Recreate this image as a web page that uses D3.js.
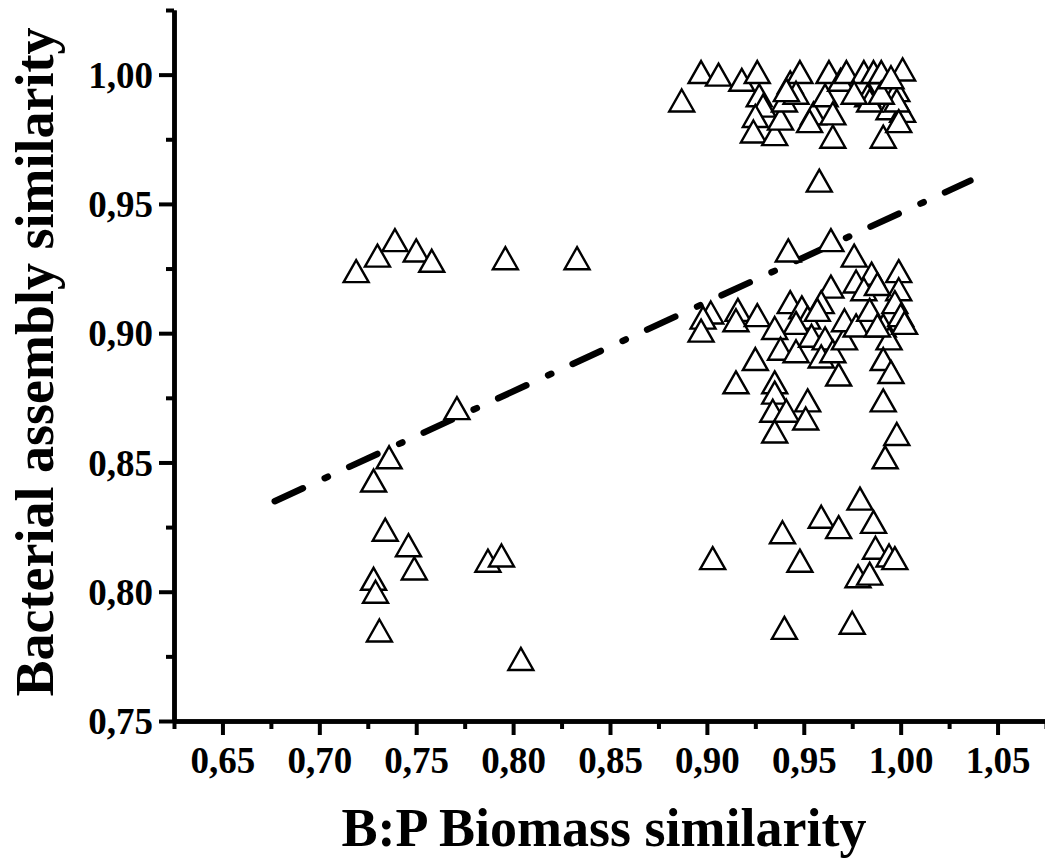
<!DOCTYPE html>
<html>
<head>
<meta charset="utf-8">
<script src="https://cdn.jsdelivr.net/npm/d3@7"></script>
<style>
  html, body { margin: 0; padding: 0; background: #fff; }
  svg { display: block; }
</style>
</head>
<body>
<svg id="chart" width="1045" height="861"></svg>
<script>
// ---- Data ----
const ptsX = [
  // top cluster (~1.00)
  0.887,0.897,0.906,0.918,0.926,0.927,0.929,0.925,0.924,0.935,0.938,0.940,0.943,0.948,0.946,
  0.955,0.953,0.961,0.963,0.965,0.969,0.965,0.972,0.980,0.981,0.983,0.986,0.990,0.994,0.998,
  1.001,1.001,0.998,0.991,0.999,0.984,0.990,0.995,0.976,0.941,0.958,
  // middle cluster (~0.90)
  0.942,0.964,0.976,0.985,0.999,0.999,0.964,0.977,0.981,0.997,0.943,0.959,0.902,0.898,0.897,
  0.916,0.915,0.926,0.949,0.952,0.946,0.957,0.935,0.938,0.946,0.954,0.961,0.959,0.965,0.971,
  0.971,0.977,0.984,0.991,0.994,1.000,1.002,0.991,0.995,0.968,0.925,0.915,0.935,0.935,0.934,
  0.941,0.952,0.951,0.935,0.991,0.998,0.992,0.988,0.988,
  // left group
  0.719,0.730,0.739,0.750,0.758,0.796,0.833,0.771,0.736,0.728,0.734,0.746,0.749,0.728,0.729,
  0.731,0.787,0.794,0.804,
  // lower right group
  0.903,0.939,0.948,0.959,0.968,0.979,0.986,0.987,0.994,0.997,0.978,0.984,0.940,0.975
];
const ptsY = [
  0.990,1.001,1.000,0.998,1.001,0.992,0.988,0.984,0.978,0.977,0.983,0.990,0.997,1.001,0.993,
  0.985,0.982,0.992,1.001,0.985,0.998,0.976,1.001,0.997,1.001,0.992,1.001,1.001,0.987,0.994,
  1.002,0.986,0.990,0.976,0.982,0.990,0.993,0.999,0.993,0.994,0.959,
  0.932,0.936,0.930,0.923,0.924,0.917,0.918,0.920,0.917,0.912,0.912,0.912,0.908,0.906,0.901,
  0.909,0.905,0.907,0.910,0.906,0.904,0.909,0.902,0.894,0.893,0.899,0.898,0.891,0.893,0.898,
  0.905,0.903,0.909,0.903,0.898,0.907,0.904,0.890,0.885,0.884,0.890,0.881,0.881,0.877,0.870,
  0.870,0.874,0.867,0.862,0.874,0.861,0.852,0.919,0.903,
  0.924,0.930,0.936,0.932,0.928,0.929,0.929,0.871,0.852,0.843,0.824,0.818,0.809,0.805,0.800,
  0.785,0.812,0.814,0.774,
  0.813,0.823,0.812,0.829,0.825,0.836,0.827,0.817,0.814,0.813,0.806,0.807,0.786,0.788
];
// linear fit line end points
const fitX = [0.677, 1.036];
const fitY = [0.835, 0.959];

const xTicks = [0.65,0.70,0.75,0.80,0.85,0.90,0.95,1.00,1.05];
const xTickLabels = ["0,65","0,70","0,75","0,80","0,85","0,90","0,95","1,00","1,05"];
const xMinor = [0.625,0.675,0.725,0.775,0.825,0.875,0.925,0.975,1.025,1.075];
const yTicks = [0.75,0.80,0.85,0.90,0.95,1.00];
const yTickLabels = ["0,75","0,80","0,85","0,90","0,95","1,00"];
const yMinor = [0.775,0.825,0.875,0.925,0.975,1.025];

const xTitle = "B:P Biomass similarity";
const yTitle = "Bacterial assembly similarity";

// ---- Drawing ----
const svg = d3.select("#chart");
const FONT = "'Liberation Serif', 'Times New Roman', serif";

const x = d3.scaleLinear().domain([0.625, 1.075]).range([174, 1046]);
const y = d3.scaleLinear().domain([0.75, 1.025]).range([721, 10]);

// fit line (dash-dot)
const line = d3.line().x(d => x(d[0])).y(d => y(d[1]));
svg.append("path")
  .datum(d3.zip(fitX, fitY))
  .attr("d", line)
  .attr("fill", "none")
  .attr("stroke", "#000")
  .attr("stroke-width", 6.5)
  .attr("stroke-linecap", "round")
  .attr("stroke-dasharray", "31,24,3.5,23.5");

// points
const tri = "M0,-11L12.5,11L-12.5,11Z";
svg.append("g").selectAll("path")
  .data(d3.zip(ptsX, ptsY))
  .join("path")
  .attr("d", tri)
  .attr("transform", d => `translate(${x(d[0])},${y(d[1])})`)
  .attr("fill", "#fff")
  .attr("stroke", "#000")
  .attr("stroke-width", 2.4);

// axes
const xAxisMinor = d3.axisBottom(x).tickValues(xMinor).tickSize(8).tickSizeOuter(0).tickFormat("");
const xAxis = d3.axisBottom(x).tickValues(xTicks).tickSize(14).tickSizeOuter(0)
  .tickFormat((d, i) => xTickLabels[i]);
const yAxisMinor = d3.axisLeft(y).tickValues(yMinor).tickSize(8).tickSizeOuter(0).tickFormat("");
const yAxis = d3.axisLeft(y).tickValues(yTicks).tickSize(15).tickSizeOuter(0)
  .tickFormat((d, i) => yTickLabels[i]);

function styleAxis(g) {
  g.select(".domain").attr("stroke", "#000").attr("stroke-width", 4.5);
  g.selectAll(".tick line").attr("stroke", "#000").attr("stroke-width", 4);
  g.selectAll(".tick text")
    .attr("fill", "#000")
    .style("font-family", FONT)
    .style("font-weight", "bold")
    .style("font-size", "37px");
}

const gxm = svg.append("g").attr("transform", "translate(0,721)").call(xAxisMinor);
styleAxis(gxm);
const gx = svg.append("g").attr("transform", "translate(0,721)").call(xAxis);
styleAxis(gx);
gx.selectAll(".tick text").attr("y", 52).attr("dy", 0);

const gym = svg.append("g").attr("transform", "translate(174,0)").call(yAxisMinor);
styleAxis(gym);
const gy = svg.append("g").attr("transform", "translate(174,0)").call(yAxis);
styleAxis(gy);
gy.selectAll(".tick text").attr("x", -21).attr("dy", "0.34em");

// axis titles
svg.append("text")
  .attr("x", 604).attr("y", 846)
  .attr("text-anchor", "middle")
  .style("font-family", FONT).style("font-weight", "bold").style("font-size", "54px")
  .text(xTitle);

svg.append("text")
  .attr("transform", "translate(53,362) rotate(-90)")
  .attr("text-anchor", "middle")
  .style("font-family", FONT).style("font-weight", "bold").style("font-size", "54px")
  .text(yTitle);
</script>
</body>
</html>
